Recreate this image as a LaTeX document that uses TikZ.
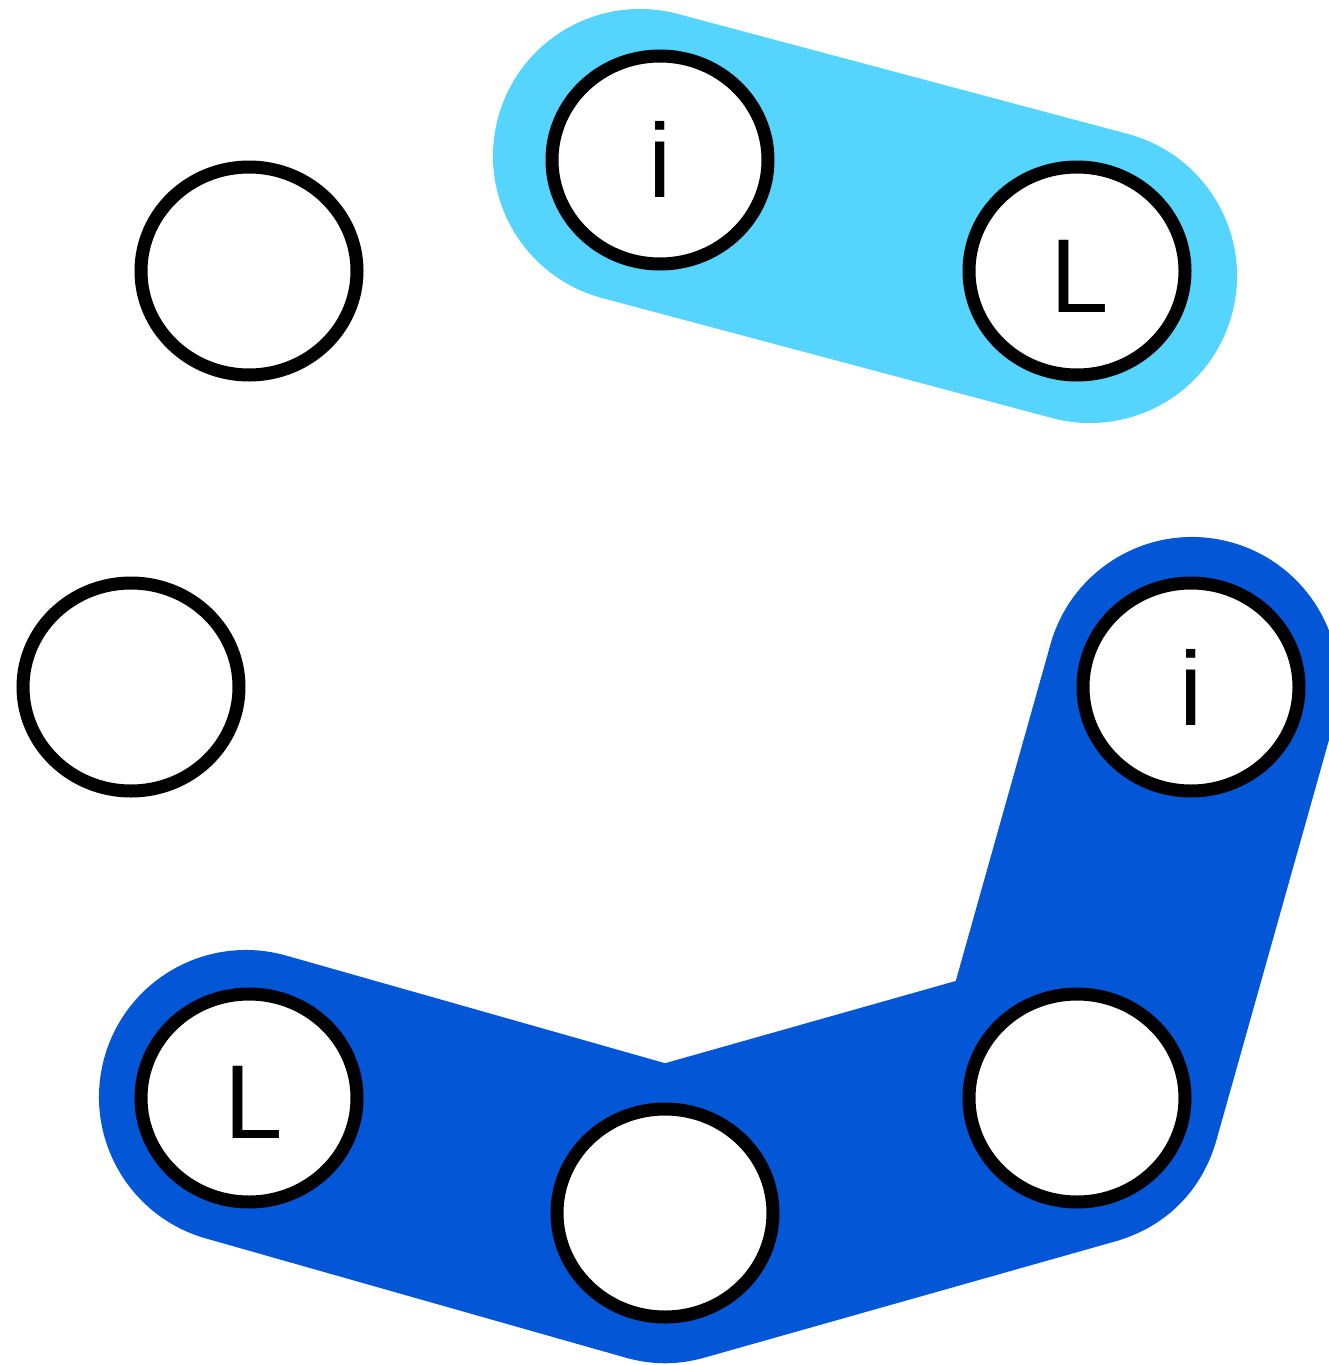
\documentclass[tikz,border=0pt]{standalone}
\usepackage{fontspec}
\setmainfont{Liberation Sans}
\usetikzlibrary{shapes.geometric}
\definecolor{lightband}{HTML}{55D4FD}
\definecolor{darkband}{HTML}{0357D7}
\begin{document}
\begin{tikzpicture}[x=1pt,y=-1pt,
  ring/.style={draw=black, line width=13pt, fill=white, ellipse, minimum width=216pt, minimum height=208pt, inner sep=0pt},
  lbl/.style={font=\fontsize{105}{105}\selectfont, inner sep=0pt, anchor=base},
  band/.style={line width=294pt, line cap=round, line join=round}]
\useasboundingbox (0,0) rectangle (1329,1365);
\clip (0,0) rectangle (1329,1365);
% band anchor points
\coordinate (lb1) at (640,156);
\coordinate (lb2) at (1090,276);
\coordinate (db1) at (1192,684);
\coordinate (db2) at (1075,1100);
\coordinate (db3) at (665,1216);
\coordinate (db4) at (246,1097);
\draw[band, lightband] (lb1) -- (lb2);
\draw[band, darkband] (db1) -- (db2) -- (db3) -- (db4);
% rings
\node[ring] (A) at (249,271) {};
\node[ring] (B) at (660,160) {};
\node[ring] (C) at (1077,271) {};
\node[ring] (D) at (131,687) {};
\node[ring] (E) at (1191,687) {};
\node[ring] (F) at (1077,1098) {};
\node[ring] (G) at (665,1213) {};
\node[ring] (H) at (249,1098) {};
% labels
\node[lbl] (tB) at (660,197) {i};
\node[lbl] (tC) at (1080,312) {L};
\node[lbl] (tE) at (1191,725) {i};
\node[lbl] (tH) at (254,1138) {L};
\end{tikzpicture}
\end{document}
